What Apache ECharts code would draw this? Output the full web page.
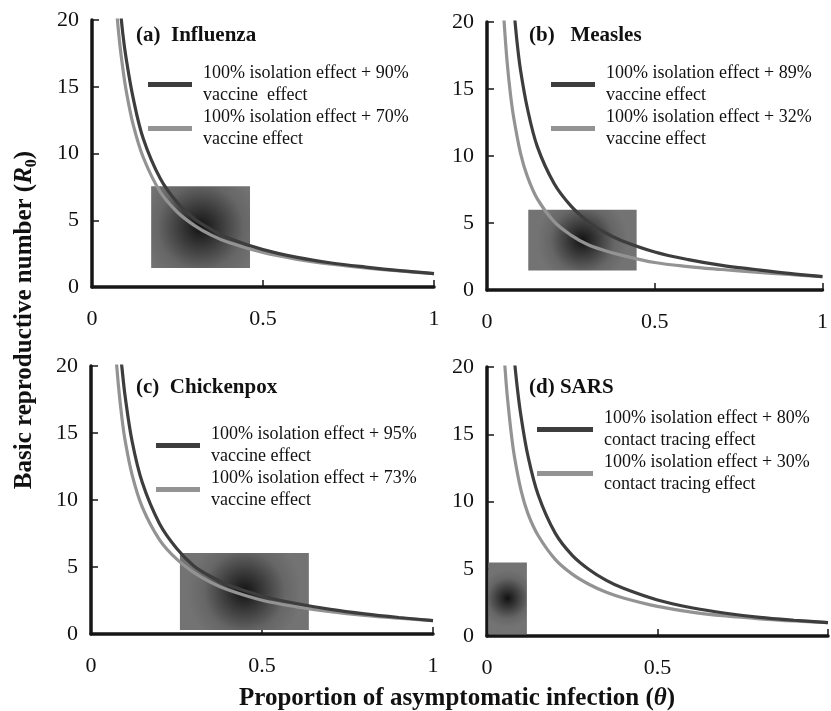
<!DOCTYPE html>
<html>
<head>
<meta charset="utf-8">
<script src="https://cdn.jsdelivr.net/npm/echarts@6/dist/echarts.min.js"></script>
<style>html,body{margin:0;padding:0;background:#fff;}#c{width:831px;height:711px;}</style>
</head>
<body>
<div id="c"></div>
<script>
// ---- data ----
const panelTitles = ['(a)  Influenza', '(b)   Measles', '(c)  Chickenpox', '(d) SARS'];
const xTickLabels = ['0', '0.5', '1'];
const yTickLabels = ['0', '5', '10', '15', '20'];

const aDarkName = '100% isolation effect + 90%\nvaccine  effect';
const aGrayName = '100% isolation effect + 70%\nvaccine effect';
const bDarkName = '100% isolation effect + 89%\nvaccine effect';
const bGrayName = '100% isolation effect + 32%\nvaccine effect';
const cDarkName = '100% isolation effect + 95%\nvaccine effect';
const cGrayName = '100% isolation effect + 73%\nvaccine effect';
const dDarkName = '100% isolation effect + 80%\ncontact tracing effect';
const dGrayName = '100% isolation effect + 30%\ncontact tracing effect';

const aDarkTheta = [0.08, 0.09, 0.1, 0.12, 0.15, 0.2, 0.25, 0.3, 0.35, 0.4, 0.5, 0.6, 0.7, 0.8, 0.9, 1.0];
const aDarkR     = [21.6, 19.0, 17.1, 14.2, 11.1, 8.1, 6.3, 5.1, 4.3, 3.65, 2.8, 2.22, 1.8, 1.49, 1.22, 1.0];
const aGrayTheta = [0.065, 0.07, 0.08, 0.09, 0.1, 0.12, 0.15, 0.2, 0.25, 0.3, 0.35, 0.4, 0.5, 0.6, 0.7, 0.8, 0.9, 1.0];
const aGrayR     = [23.1, 21.3, 18.5, 16.4, 14.7, 12.2, 9.7, 7.1, 5.6, 4.6, 3.87, 3.33, 2.58, 2.07, 1.71, 1.43, 1.2, 1.0];

const bDarkTheta = [0.075, 0.08, 0.09, 0.1, 0.12, 0.15, 0.2, 0.25, 0.3, 0.35, 0.4, 0.5, 0.6, 0.7, 0.8, 0.9, 1.0];
const bDarkR     = [22.5, 21.0, 18.4, 16.4, 13.6, 10.7, 7.95, 6.28, 5.13, 4.31, 3.7, 2.84, 2.27, 1.84, 1.53, 1.24, 1.0];
const bGrayTheta = [0.045, 0.05, 0.06, 0.07, 0.08, 0.1, 0.12, 0.15, 0.2, 0.25, 0.3, 0.35, 0.4, 0.5, 0.6, 0.7, 0.8, 0.9, 1.0];
const bGrayR     = [22.7, 20.4, 17.0, 14.6, 12.8, 10.2, 8.5, 6.8, 5.1, 4.1, 3.4, 2.95, 2.6, 2.05, 1.75, 1.53, 1.33, 1.16, 1.0];

const cDarkTheta = [0.085, 0.09, 0.1, 0.12, 0.15, 0.2, 0.25, 0.3, 0.35, 0.4, 0.5, 0.6, 0.7, 0.8, 0.9, 1.0];
const cDarkR     = [21.3, 20.0, 17.7, 14.4, 11.3, 8.25, 6.4, 5.1, 4.29, 3.68, 2.84, 2.28, 1.84, 1.5, 1.23, 1.0];
const cGrayTheta = [0.07, 0.08, 0.09, 0.1, 0.12, 0.15, 0.2, 0.25, 0.3, 0.35, 0.4, 0.5, 0.6, 0.7, 0.8, 0.9, 1.0];
const cGrayR     = [21.7, 18.6, 16.2, 14.4, 11.9, 9.47, 7.05, 5.6, 4.6, 3.86, 3.3, 2.52, 2.03, 1.67, 1.39, 1.18, 1.0];

const dDarkTheta = [0.075, 0.08, 0.09, 0.1, 0.12, 0.15, 0.2, 0.25, 0.3, 0.35, 0.4, 0.5, 0.6, 0.7, 0.8, 0.9, 1.0];
const dDarkR     = [22.1, 20.6, 18.2, 16.3, 13.4, 10.5, 7.65, 6.0, 4.93, 4.14, 3.55, 2.68, 2.1, 1.69, 1.38, 1.17, 1.0];
const dGrayTheta = [0.05, 0.055, 0.06, 0.07, 0.08, 0.1, 0.12, 0.15, 0.2, 0.25, 0.3, 0.35, 0.4, 0.5, 0.6, 0.7, 0.8, 0.9, 1.0];
const dGrayR     = [21.0, 19.2, 17.7, 15.3, 13.4, 10.8, 9.1, 7.47, 5.7, 4.6, 3.83, 3.25, 2.83, 2.2, 1.78, 1.49, 1.28, 1.12, 1.0];

// ---- build ----
const FONT = "'Liberation Serif', 'Times New Roman', serif";
const DARK = '#3d3d3d', GRAY = '#939393', AX = '#161616';
const zip = (xs, ys) => xs.map((x, i) => [x, ys[i]]);

const grids = [
  {left: 92, top: 20, width: 342, height: 267},
  {left: 487, top: 22, width: 341, height: 268},
  {left: 91, top: 366, width: 342, height: 268},
  {left: 487, top: 367, width: 342, height: 269}
];

const xAxes = grids.map((g, i) => ({
  type: 'value', gridIndex: i, min: 0, max: 1, interval: 0.5,
  axisLine: {show: true, lineStyle: {color: AX, width: 3.5}},
  axisTick: {show: true, inside: true, length: 7, lineStyle: {color: AX, width: 1.5}},
  splitLine: {show: false},
  axisLabel: {
    fontFamily: FONT, fontSize: 22, color: '#111', margin: 21,
    formatter: v => {
      const idx = Math.round(v / 0.5);
      if (i === 3 && idx === 2) return '';
      return xTickLabels[idx] || '';
    }
  }
}));
const yAxes = grids.map((g, i) => ({
  type: 'value', gridIndex: i, min: 0, max: 20, interval: 5,
  axisLine: {show: true, lineStyle: {color: AX, width: 3.5}},
  axisTick: {show: true, inside: true, length: 7, lineStyle: {color: AX, width: 1.5}},
  splitLine: {show: false},
  axisLabel: {fontFamily: FONT, fontSize: 22, color: '#111', margin: 13,
    formatter: v => yTickLabels[Math.round(v / 5)]}
}));

const boxGrad = {type: 'radial', x: 0.5, y: 0.5, r: 0.75,
  colorStops: [{offset: 0, color: '#121212'}, {offset: 0.35, color: '#3c3c3c'}, {offset: 0.7, color: '#666667'}, {offset: 1, color: '#737374'}]};
const boxes = [
  [{xAxis: 0.173, yAxis: 7.54}, {xAxis: 0.462, yAxis: 1.42}],
  [{xAxis: 0.123, yAxis: 5.99}, {xAxis: 0.446, yAxis: 1.45}],
  [{xAxis: 0.26, yAxis: 6.04}, {xAxis: 0.637, yAxis: 0.3}],
  [{xAxis: 0.004, yAxis: 5.46}, {xAxis: 0.117, yAxis: 0.15}]
];

const curves = [
  [aDarkName, aDarkTheta, aDarkR, aGrayName, aGrayTheta, aGrayR],
  [bDarkName, bDarkTheta, bDarkR, bGrayName, bGrayTheta, bGrayR],
  [cDarkName, cDarkTheta, cDarkR, cGrayName, cGrayTheta, cGrayR],
  [dDarkName, dDarkTheta, dDarkR, dGrayName, dGrayTheta, dGrayR]
];

const series = [];
curves.forEach((c, i) => {
  series.push({
    type: 'line', name: 'box' + i, xAxisIndex: i, yAxisIndex: i, z: 1,
    data: zip(c[1], c[2]), symbol: 'none', lineStyle: {opacity: 0}, silent: true,
    markArea: {silent: true, itemStyle: {color: boxGrad, opacity: 1}, data: [boxes[i]]}
  });
  series.push({
    type: 'line', name: c[0], xAxisIndex: i, yAxisIndex: i, z: 5,
    data: zip(c[1], c[2]), symbol: 'none', smooth: 0.35, clip: true,
    color: DARK, lineStyle: {color: DARK, width: 3.2}
  });
  series.push({
    type: 'line', name: c[3], xAxisIndex: i, yAxisIndex: i, z: 4,
    data: zip(c[4], c[5]), symbol: 'none', smooth: 0.35, clip: true,
    color: GRAY, lineStyle: {color: GRAY, width: 3.2}
  });
});

const legendPos = [
  {left: 148, top: 63, w: 44},
  {left: 551, top: 63, w: 44},
  {left: 156, top: 424, w: 44},
  {left: 537, top: 408, w: 56}
];
const legends = curves.map((c, i) => ({
  data: [c[0], c[3]], left: legendPos[i].left, top: legendPos[i].top,
  orient: 'vertical', icon: 'rect', itemWidth: legendPos[i].w, itemHeight: 5, itemGap: 1,
  selectedMode: false, padding: 0,
  textStyle: {fontFamily: FONT, fontSize: 18, lineHeight: 21.5, color: '#111', padding: [0, 0, 0, 6]}
}));

const titlePos = [[136, 36], [529, 36], [136, 388], [529, 388]];
const graphics = panelTitles.map((t, i) => ({
  type: 'text', x: titlePos[i][0], y: titlePos[i][1], z: 10,
  style: {text: t, fontFamily: FONT, fontSize: 21, fontWeight: 'bold', fill: '#111',
    align: 'left', verticalAlign: 'middle'}
}));
graphics.push({
  type: 'text', x: 457, y: 699, z: 10,
  style: {text: 'Proportion of asymptomatic infection ({i|θ})', fontFamily: FONT, fontSize: 25,
    fontWeight: 'bold', fill: '#111', align: 'center', verticalAlign: 'middle',
    rich: {i: {fontFamily: FONT, fontSize: 25, fontWeight: 'bold', fontStyle: 'italic', fill: '#111'}}}
});
graphics.push({
  type: 'text', x: 25, y: 320, rotation: Math.PI / 2, z: 10,
  style: {text: 'Basic reproductive number ({i|R}{s|0})', fontFamily: FONT, fontSize: 25,
    fontWeight: 'bold', fill: '#111', align: 'center', verticalAlign: 'middle', lineHeight: 30,
    rich: {
      i: {fontFamily: FONT, fontSize: 25, fontWeight: 'bold', fontStyle: 'italic', fill: '#111', lineHeight: 30},
      s: {fontFamily: FONT, fontSize: 16, fontWeight: 'bold', fill: '#111', verticalAlign: 'bottom', lineHeight: 30}
    }}
});

const chart = echarts.init(document.getElementById('c'), null, {renderer: 'canvas'});
chart.setOption({
  animation: false,
  backgroundColor: '#ffffff',
  grid: grids,
  xAxis: xAxes,
  yAxis: yAxes,
  legend: legends,
  series: series,
  graphic: graphics
});
</script>
</body>
</html>
